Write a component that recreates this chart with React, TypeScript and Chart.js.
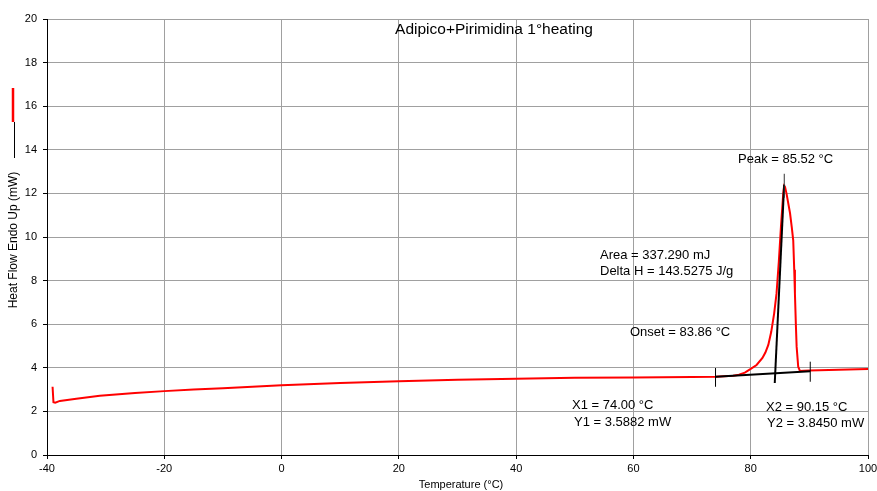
import React, { useEffect, useRef } from "react";
import { Chart, registerables } from "chart.js";

Chart.register(...registerables);

const FONT = "'Liberation Sans', Arial, sans-serif";

// Red DSC curve: temperature (°C) and heat flow (mW)
const curveT = [
  -39.05, -38.9, -38.6, -37.8, -35, -31, -25, -20, -15, -10, -5, 0, 10, 20, 30, 40, 50, 60, 70, 74, 77, 78, 79, 80,
  81, 82, 82.5, 83, 83.5, 84, 84.4, 84.8, 85.15, 85.55, 85.7, 85.85, 86.1, 86.7, 87.0, 87.25, 87.42, 87.54, 87.71,
  87.83, 88.1, 88.4, 89, 90, 95, 100,
];
const curveHF = [
  3.13, 2.42, 2.4, 2.48, 2.58, 2.72, 2.84, 2.93, 3.0, 3.06, 3.13, 3.2, 3.3, 3.38, 3.45, 3.5, 3.54, 3.56, 3.58, 3.59,
  3.64, 3.68, 3.78, 3.95, 4.13, 4.45, 4.7, 5.05, 5.65, 6.5, 7.4, 8.9, 10.45, 12.0, 12.35, 12.3, 12.0, 11.1, 10.45,
  9.85, 8.5, 7.4, 5.9, 4.97, 4.05, 3.85, 3.86, 3.88, 3.91, 3.95,
];

// Analysis construction lines
const baselineT = [74.0, 90.15];
const baselineHF = [3.5882, 3.845];
const tangentT = [84.1, 85.7];
const tangentHF = [3.3, 12.4];
const x1TickT = [74.0, 74.0];
const x1TickHF = [3.13, 3.99];
const x2TickT = [90.15, 90.15];
const x2TickHF = [3.36, 4.28];
const peakTickT = [85.72, 85.72];
const peakTickHF = [11.8, 12.9];

// Axes
const xMin = -40;
const xMax = 100;
const xStep = 20;
const yMin = 0;
const yMax = 20;
const yStep = 2;

// Texts
const chartTitle = "Adipico+Pirimidina 1°heating";
const xTitle = "Temperature (°C)";
const yTitle = "Heat Flow Endo Up (mW)";
const annotations: [string, number, number][] = [
  ["Peak = 85.52 °C", 738, 163],
  ["Area = 337.290 mJ", 600, 259],
  ["Delta H = 143.5275 J/g", 600, 275],
  ["Onset = 83.86 °C", 630, 336],
  ["X1 = 74.00 °C", 572, 409],
  ["Y1 = 3.5882 mW", 574, 426],
  ["X2 = 90.15 °C", 766, 411],
  ["Y2 = 3.8450 mW", 767, 427],
];

const pts = (xs: number[], ys: number[]) => xs.map((x, i) => ({ x, y: ys[i] }));

export default function App() {
  const ref = useRef<HTMLCanvasElement | null>(null);

  useEffect(() => {
    document.body.style.margin = "0";
    const canvas = ref.current;
    if (!canvas) return;

    const textPlugin = {
      id: "dscText",
      afterDraw(chart: any) {
        const ctx = chart.ctx as CanvasRenderingContext2D;
        ctx.save();
        ctx.fillStyle = "#000";
        // title
        ctx.font = `15.5px ${FONT}`;
        ctx.textAlign = "center";
        ctx.textBaseline = "alphabetic";
        ctx.fillText(chartTitle, 494, 34);
        // annotations
        ctx.font = `13px ${FONT}`;
        ctx.textAlign = "left";
        for (const [t, x, y] of annotations) ctx.fillText(t, x, y);
        // x title
        ctx.font = `11px ${FONT}`;
        ctx.textAlign = "center";
        ctx.textBaseline = "middle";
        ctx.fillText(xTitle, 461, 485);
        // y title with legend lines
        ctx.save();
        ctx.translate(14, 240);
        ctx.rotate(-Math.PI / 2);
        ctx.font = `12px ${FONT}`;
        ctx.fillText(yTitle, 0, 0);
        ctx.restore();
        ctx.strokeStyle = "#000";
        ctx.lineWidth = 1;
        ctx.beginPath();
        ctx.moveTo(14.5, 122);
        ctx.lineTo(14.5, 158);
        ctx.stroke();
        ctx.strokeStyle = "#ff0000";
        ctx.lineWidth = 2.5;
        ctx.beginPath();
        ctx.moveTo(13, 88);
        ctx.lineTo(13, 122);
        ctx.stroke();
        ctx.restore();
      },
    };

    const black = (data: { x: number; y: number }[], w: number, c = "#000") => ({
      data,
      borderColor: c,
      borderWidth: w,
      pointRadius: 0,
      fill: false,
      tension: 0,
    });

    const chart = new Chart(canvas, {
      type: "line",
      data: {
        datasets: [
          black(pts(peakTickT, peakTickHF), 1, "#333"),
          black(pts(x1TickT, x1TickHF), 1),
          black(pts(x2TickT, x2TickHF), 1),
          black(pts(baselineT, baselineHF), 2),
          black(pts(tangentT, tangentHF), 2),
          {
            data: pts(curveT, curveHF),
            borderColor: "#ff0000",
            borderWidth: 2,
            pointRadius: 0,
            fill: false,
            tension: 0,
          },
        ],
      },
      options: {
        animation: false,
        responsive: false,
        devicePixelRatio: 1,
        layout: { padding: { top: 19, right: 9, left: 0, bottom: 0 } },
        plugins: { legend: { display: false }, tooltip: { enabled: false }, title: { display: false } },
        scales: {
          x: {
            type: "linear",
            min: xMin,
            max: xMax,
            afterFit: (s: any) => {
              s.height = 36;
              s.paddingLeft = 0;
              s.paddingRight = 0;
            },
            ticks: { stepSize: xStep, color: "#000", font: { family: FONT, size: 11 }, padding: 3, maxRotation: 0 },
            grid: { color: "#a0a0a0", tickColor: "#000", tickLength: 4, lineWidth: 1 },
            border: { color: "#000", width: 1 },
          },
          y: {
            type: "linear",
            min: yMin,
            max: yMax,
            afterFit: (s: any) => {
              s.width = 47;
              s.paddingTop = 0;
              s.paddingBottom = 0;
            },
            ticks: { stepSize: yStep, color: "#000", font: { family: FONT, size: 11 }, padding: 6 },
            grid: { color: "#a0a0a0", tickColor: "#000", tickLength: 4, lineWidth: 1 },
            border: { color: "#000", width: 1 },
          },
        },
      },
      plugins: [textPlugin],
    });
    return () => chart.destroy();
  }, []);

  return <canvas ref={ref} width={877} height={491} style={{ display: "block" }} />;
}
